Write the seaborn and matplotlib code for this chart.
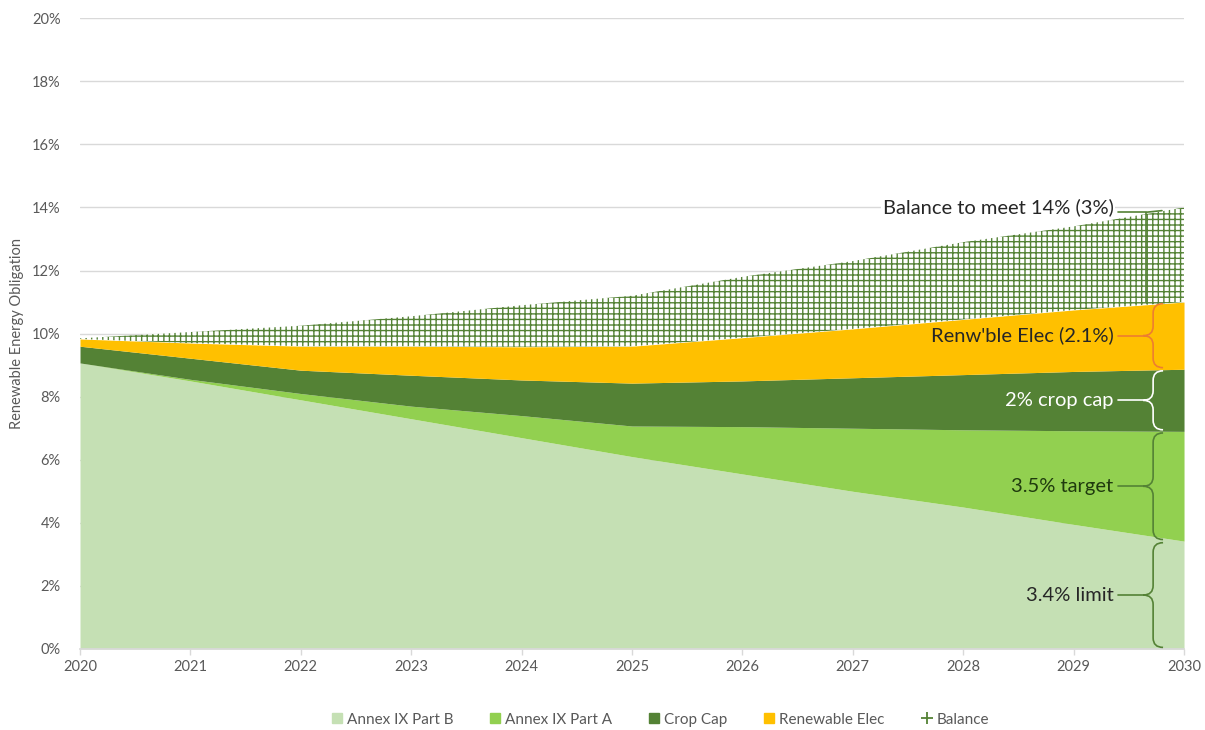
import numpy as np
import matplotlib.pyplot as plt
import seaborn as sns
from matplotlib.path import Path
from matplotlib.patches import PathPatch
from matplotlib.lines import Line2D
from matplotlib.ticker import FuncFormatter

sns.set_theme(style='white')
plt.rcParams['font.family'] = ['Lato', 'DejaVu Sans']
plt.rcParams['hatch.linewidth'] = 1.0

# ── data (percent of energy, layer thickness per year) ─────────────────────────
years = [2020, 2021, 2022, 2023, 2024, 2025, 2026, 2027, 2028, 2029, 2030]
annex_b = [9.07, 8.50, 7.90, 7.30, 6.70, 6.10, 5.55, 5.00, 4.50, 3.95, 3.42]
annex_a = [0.00, 0.05, 0.20, 0.40, 0.70, 0.97, 1.50, 2.00, 2.45, 2.97, 3.48]
crop_cap = [0.53, 0.67, 0.74, 0.98, 1.13, 1.36, 1.45, 1.60, 1.75, 1.88, 1.97]
renew_elec = [0.23, 0.48, 0.76, 0.92, 1.05, 1.17, 1.37, 1.55, 1.75, 1.95, 2.13]
balance = [0.02, 0.35, 0.65, 0.95, 1.32, 1.60, 1.93, 2.15, 2.45, 2.65, 3.00]

layers = [
    ('Annex IX Part B', annex_b, '#C5E0B4'),
    ('Annex IX Part A', annex_a, '#92D050'),
    ('Crop Cap', crop_cap, '#548235'),
    ('Renewable Elec', renew_elec, '#FFC000'),
]
HATCH_GREEN = '#548235'
GREY = '#595959'

fig = plt.figure(figsize=(12.05, 7.3), dpi=100)
ax = fig.add_axes([0.0664, 0.111, 0.9162, 0.864])

x = np.array(years, dtype=float)
base = np.zeros(len(years))
bounds = [0.0]
for name, vals, col in layers:
    top = base + np.array(vals)
    ax.fill_between(x, base, top, color=col, linewidth=0, zorder=2)
    base = top
    bounds.append(top[-1])
top = base + np.array(balance)
ax.fill_between(x, base, top, facecolor='white', edgecolor=HATCH_GREEN,
                hatch='+++', linewidth=0, zorder=2)
bounds.append(top[-1])

# ── axes styling ─────────────────────────────────────────────────────────────
ax.set_xlim(2020, 2030)
ax.set_ylim(0, 20)
ax.set_xticks(years)
ax.set_yticks(np.arange(0, 21, 2))
ax.yaxis.set_major_formatter(FuncFormatter(lambda v, p: f'{v:.0f}%'))
ax.grid(True, axis='y', color='#D9D9D9', linewidth=1, zorder=0)
ax.set_axisbelow(True)
for s in ['top', 'right', 'left']:
    ax.spines[s].set_visible(False)
ax.spines['bottom'].set_color('#D9D9D9')
ax.tick_params(axis='x', colors=GREY, labelsize=10.5, length=4, width=1,
               direction='out', bottom=True, color='#D9D9D9', pad=4)
ax.tick_params(axis='y', colors=GREY, labelsize=10.5, length=0, pad=14)
ax.set_ylabel('Renewable Energy Obligation', color=GREY, fontsize=10.5, labelpad=6)


# ── braces ───────────────────────────────────────────────────────────────────
def brace(y0, y1, col, xtip=2029.63, w=0.18, r=0.3):
    xm = xtip + w / 2
    xr = xtip + w
    ym = (y0 + y1) / 2
    verts = [(xr, y0), (xm, y0), (xm, y0 + r), (xm, ym - r), (xm, ym), (xtip, ym),
             (xtip, ym), (xm, ym), (xm, ym + r), (xm, y1 - r), (xm, y1), (xr, y1)]
    codes = [Path.MOVETO, Path.CURVE3, Path.CURVE3, Path.LINETO, Path.CURVE3, Path.CURVE3,
             Path.MOVETO, Path.CURVE3, Path.CURVE3, Path.LINETO, Path.CURVE3, Path.CURVE3]
    ax.add_patch(PathPatch(Path(verts, codes), facecolor='none', edgecolor=col,
                           linewidth=1.2, zorder=4, clip_on=False))
    ax.plot([2029.40, xtip], [ym, ym], color=col, linewidth=1.2, zorder=4)
    return ym


notes = [
    ('3.4% limit', '#262626', '#548235', 0),
    ('3.5% target', '#1F3A0E', '#548235', 1),
    ('2% crop cap', 'white', 'white', 2),
    ("Renw'ble Elec (2.1%)", '#262626', '#ED7D31', 3),
]
for label, tcol, bcol, i in notes:
    ym = brace(bounds[i] + 0.05, bounds[i + 1] - 0.05, bcol)
    ax.text(2029.36, ym, label, ha='right', va='center', color=tcol,
            fontsize=14.5, zorder=5)

# balance marker: line from label, then vertical bar down to the Renewable Elec top
yb = bounds[5] - 0.15
ax.plot([2029.40, 2029.66, 2029.66], [yb, yb, bounds[4]], color=HATCH_GREEN,
        linewidth=1.2, zorder=4)
ax.plot([2029.66, 2029.80], [yb, yb + 0.05], color=HATCH_GREEN, linewidth=1.2, zorder=4)
ax.text(2029.36, yb + 0.15, 'Balance to meet 14% (3%)', ha='right', va='center',
        color='#262626', fontsize=14.5, zorder=5,
        bbox=dict(facecolor='white', edgecolor='none', pad=1))

# ── legend ───────────────────────────────────────────────────────────────────
handles = [Line2D([], [], marker='s', linestyle='none', markersize=7.5,
                  markerfacecolor=c, markeredgecolor=c) for _, _, c in layers]
handles.append(Line2D([], [], marker='+', linestyle='none', markersize=8,
                      markeredgecolor=HATCH_GREEN, markeredgewidth=1.3))
labels = [n for n, _, _ in layers] + ['Balance']
leg = fig.legend(handles, labels, loc='center', bbox_to_anchor=(0.548, 0.014),
                 ncol=5, frameon=False, fontsize=11, handlelength=0.7,
                 handletextpad=0.3, columnspacing=2.4)
for t in leg.get_texts():
    t.set_color(GREY)

fig.savefig('out.png', dpi=100)
